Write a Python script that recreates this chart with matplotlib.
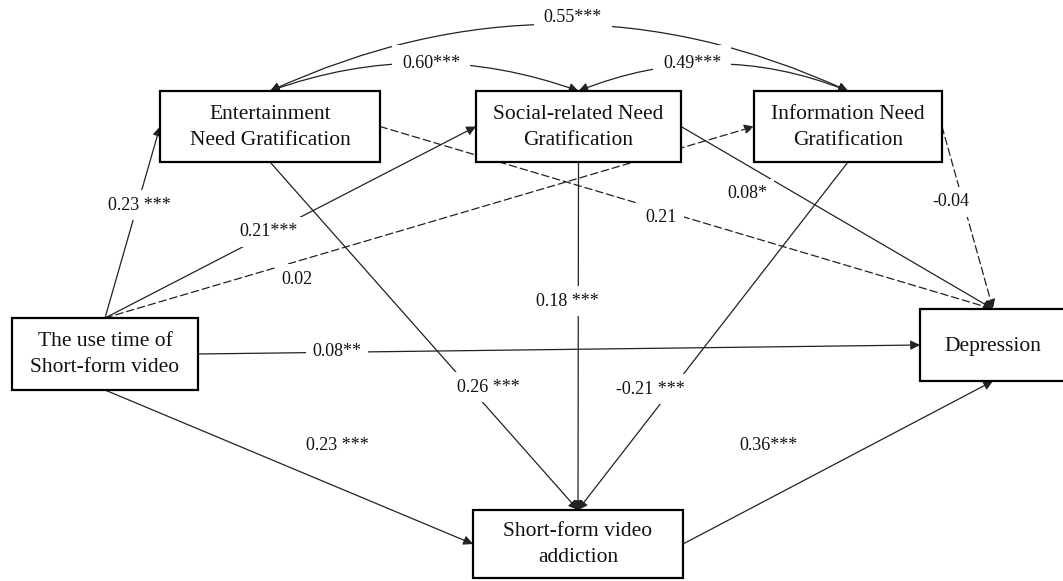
import matplotlib
matplotlib.use("Agg")
import matplotlib.pyplot as plt
from matplotlib.patches import Rectangle, FancyArrowPatch

plt.rcParams['font.family'] = ['Liberation Serif', 'DejaVu Serif']

# variables in the path model
node_keys = ["use", "ent", "soc", "inf", "add", "dep"]
node_texts = ["The use time of\nShort-form video",
              "Entertainment\nNeed Gratification",
              "Social-related Need\nGratification",
              "Information Need\nGratification",
              "Short-form video\naddiction",
              "Depression"]
# box extents in pixels: left, top, right, bottom
node_boxes = [(12, 318, 198, 390),
              (160, 91, 380, 162),
              (476, 91, 681, 162),
              (754, 91, 942, 162),
              (473, 510, 683, 578),
              (920, 309, 1066, 381)]

# direct paths: (from, side), (to, side), coefficient, significance, dashed
path_src = [("use", "top"), ("use", "top"), ("use", "top"),
            ("ent", "bottom"), ("ent", "right"),
            ("soc", "bottom"), ("soc", "right"),
            ("inf", "bottom"), ("inf", "right"),
            ("use", "right"), ("use", "bottom"), ("add", "right")]
path_dst = [("ent", "left"), ("soc", "left"), ("inf", "left"),
            ("add", "top"), ("dep", "top"),
            ("add", "top"), ("dep", "top"),
            ("add", "top"), ("dep", "top"),
            ("dep", "left"), ("add", "left"), ("dep", "bottom")]
path_coef = ["0.23 ***", "0.21***", "0.02",
             "0.26 ***", "0.21",
             "0.18 ***", "0.08*",
             "-0.21 ***", "-0.04",
             "0.08**", "0.23 ***", "0.36***"]
path_dashed = [False, False, True,
               False, True,
               False, False,
               False, True,
               False, False, False]
path_label_xy = [(139, 205), (269, 232), (297, 279),
                 (488, 387), (661, 217),
                 (567, 301), (747, 194),
                 (650, 389), (951, 202),
                 (337, 352), (337, 445), (769, 446)]

# correlations among the gratification factors
corr_pairs = [("ent", "soc"), ("soc", "inf"), ("ent", "inf")]
corr_coef = ["0.60***", "0.49***", "0.55***"]
corr_rad = [-0.18, -0.20, -0.23]
corr_label_xy = [(431, 63), (692, 63), (573, 17)]

LINE = "#222222"

boxes = dict(zip(node_keys, node_boxes))


def anchor(key, side):
    x0, y0, x1, y1 = boxes[key]
    if side == "top":
        return ((x0 + x1) / 2, y0)
    if side == "bottom":
        return ((x0 + x1) / 2, y1)
    if side == "left":
        return (x0, (y0 + y1) / 2)
    return (x1, (y0 + y1) / 2)


fig = plt.figure(figsize=(10.63, 5.81), dpi=100)
ax = fig.add_axes([0, 0, 1, 1])
ax.set_xlim(0, 1063)
ax.set_ylim(581, 0)
ax.axis("off")

for key, text in zip(node_keys, node_texts):
    x0, y0, x1, y1 = boxes[key]
    ax.add_patch(Rectangle((x0, y0), x1 - x0, y1 - y0, facecolor="white",
                           edgecolor="black", lw=1.6, zorder=3))
    ax.text((x0 + x1) / 2, (y0 + y1) / 2 + 1, text, ha="center", va="center",
            fontsize=15.5, color="#111111", linespacing=1.5, zorder=4)

for src, dst, coef, dashed, lxy in zip(path_src, path_dst, path_coef,
                                        path_dashed, path_label_xy):
    arr = FancyArrowPatch(anchor(*src), anchor(*dst), arrowstyle="-|>",
                          mutation_scale=14, shrinkA=0, shrinkB=0,
                          lw=0.9, color=LINE,
                          linestyle=(0, (6, 3)) if dashed else "-",
                          zorder=1)
    ax.add_patch(arr)
    ax.text(lxy[0], lxy[1], coef, ha="center", va="center", fontsize=13,
            color="#111111", zorder=5,
            bbox=dict(facecolor="white", edgecolor="none", pad=5))

for (a, b), coef, rad, lxy in zip(corr_pairs, corr_coef, corr_rad, corr_label_xy):
    arc = FancyArrowPatch(anchor(a, "top"), anchor(b, "top"),
                          arrowstyle="<|-|>", mutation_scale=14,
                          shrinkA=0, shrinkB=0, lw=0.9, color=LINE,
                          connectionstyle=f"arc3,rad={rad}", zorder=1)
    ax.add_patch(arc)
    ax.text(lxy[0], lxy[1], coef, ha="center", va="center", fontsize=13,
            color="#111111", zorder=5,
            bbox=dict(facecolor="white", edgecolor="none", pad=7))

fig.savefig("out.png", dpi=100)
